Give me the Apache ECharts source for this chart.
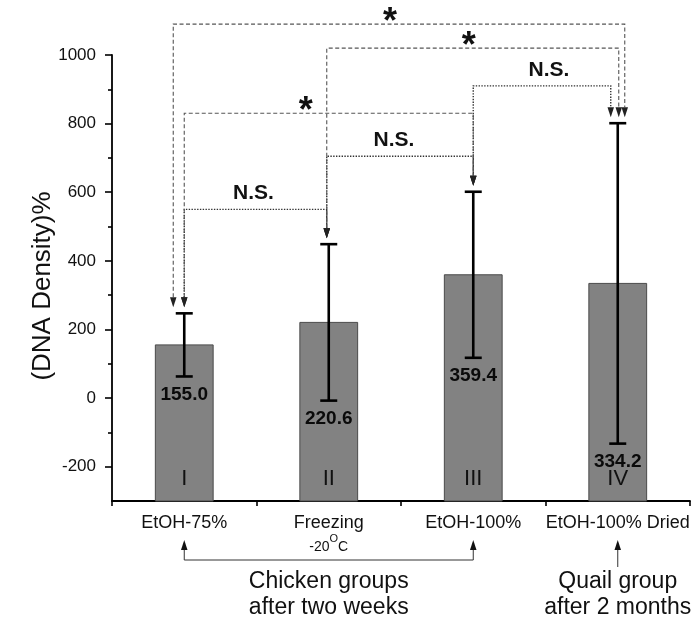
<!DOCTYPE html>
<html><head><meta charset="utf-8">
<script src="https://cdn.jsdelivr.net/npm/echarts@6/dist/echarts.min.js"></script>
<style>html,body{margin:0;padding:0;background:#fff}#c{width:694px;height:619px}</style>
</head><body><div id="c"></div>
<script>
// ---- data ----
const categories = ['EtOH-75%', 'Freezing\n-20°C', 'EtOH-100%', 'EtOH-100% Dried'];
const romans = ['I', 'II', 'III', 'IV'];
const means = [155.0, 220.6, 359.4, 334.2];
const errors = [92, 228, 242, 467];
const yTicks = [-200, 0, 200, 400, 600, 800, 1000];
const yMinorTicks = [-100, 100, 300, 500, 700, 900];
const yTitle = '(DNA Density)%';
const bracketFrom = [0, 1, 2, 0, 1, 0];
const bracketTo = [1, 2, 3, 2, 3, 3];
const bracketHeight = [550, 705, 910, 830, 1020, 1090];
const bracketLabel = ['N.S.', 'N.S.', 'N.S.', '*', '*', '*'];
const groupFrom = [0, 3];
const groupTo = [2, 3];
const groupLabel = ['Chicken groups\nafter two weeks', 'Quail group\nafter 2 months'];
const Y_MIN = -300, Y_MAX = 1000;

// ---- style ----
const FONT = '"Liberation Sans", Arial, Helvetica, sans-serif';
const bracketShift = [[0, -2], [-2, 0], [0, -7], [0, 0], [-2, 1], [-11, 7]];
const labelShift = [-2, -6, 7, -23, -4, -9];
const ARROW_GAP = 6, ARROW_H = 10, ARROW_W = 6.5;

function arrowDown(x, y, color) {
  return { type: 'polygon', shape: { points: [[x - ARROW_W / 2, y - ARROW_H], [x + ARROW_W / 2, y - ARROW_H], [x, y]] }, style: { fill: color } };
}
function arrowUp(x, y, color) {
  return { type: 'polygon', shape: { points: [[x - ARROW_W / 2, y + ARROW_H], [x + ARROW_W / 2, y + ARROW_H], [x, y]] }, style: { fill: color } };
}

function renderBar(params, api) {
  const i = api.value(0), m = api.value(1), e = api.value(2);
  const x = api.coord([i, m])[0];
  const top = api.coord([i, m])[1];
  const base = api.coord([i, Y_MIN])[1];
  const w = api.size([1, 0])[0] * 0.4;
  const hi = api.coord([i, m + e])[1];
  const lo = api.coord([i, m - e])[1];
  const capW = 17;
  return {
    type: 'group',
    children: [
      { type: 'rect', shape: { x: x - w / 2, y: top, width: w, height: base - top }, style: { fill: '#828282', stroke: '#4a4a4a', lineWidth: 1 } },
      { type: 'line', shape: { x1: x, y1: hi, x2: x, y2: lo }, style: { stroke: '#000', lineWidth: 2.6 } },
      { type: 'line', shape: { x1: x - capW / 2, y1: hi, x2: x + capW / 2, y2: hi }, style: { stroke: '#000', lineWidth: 2.6 } },
      { type: 'line', shape: { x1: x - capW / 2, y1: lo, x2: x + capW / 2, y2: lo }, style: { stroke: '#000', lineWidth: 2.6 } },
      { type: 'text', style: { text: m.toFixed(1), x: x, y: lo + 18, align: 'center', verticalAlign: 'middle', fontFamily: FONT, fontWeight: 'bold', fontSize: 19, fill: '#0a0a0a' } },
      { type: 'text', style: { text: romans[i], x: x, y: base - 22, align: 'center', verticalAlign: 'middle', fontFamily: FONT, fontSize: 22, fill: '#111' } }
    ]
  };
}

function renderBracket(params, api) {
  const k = api.value(2);
  const a = bracketFrom[k], b = bracketTo[k];
  const h = api.coord([a, bracketHeight[k]])[1];
  const xa = api.coord([a, 0])[0] + bracketShift[k][0];
  const xb = api.coord([b, 0])[0] + bracketShift[k][1];
  const ya = api.coord([a, means[a] + errors[a]])[1] - ARROW_GAP;
  const yb = api.coord([b, means[b] + errors[b]])[1] - ARROW_GAP;
  const ns = bracketLabel[k] !== '*';
  const color = ns ? '#333' : '#555';
  const dash = ns ? [1.4, 1.4] : [4, 2.5];
  const lw = ns ? 1.4 : 1.1;
  const mid = (xa + xb) / 2 + labelShift[k];
  const label = ns
    ? { type: 'text', style: { text: bracketLabel[k], x: mid, y: h - 16, align: 'center', verticalAlign: 'middle', fontFamily: FONT, fontWeight: 'bold', fontSize: 21, fill: '#111' } }
    : { type: 'text', style: { text: '*', x: mid, y: h - 1, align: 'center', verticalAlign: 'middle', fontFamily: FONT, fontWeight: 'bold', fontSize: 36, fill: '#111' } };
  return {
    type: 'group',
    children: [
      { type: 'polyline', shape: { points: [[xa, ya - ARROW_H], [xa, h], [xb, h], [xb, yb - ARROW_H]] }, style: { stroke: color, lineWidth: lw, lineDash: dash, fill: null } },
      arrowDown(xa, ya, '#222'),
      arrowDown(xb, yb, '#222'),
      label
    ]
  };
}

function renderGroup(params, api) {
  const k = api.value(2);
  const a = groupFrom[k], b = groupTo[k];
  const base = api.coord([a, Y_MIN])[1];
  const xa = api.coord([a, 0])[0];
  const xb = api.coord([b, 0])[0];
  const tip = base + 39;
  const children = [];
  const color = '#333';
  if (a !== b) {
    const yl = base + 59;
    children.push({ type: 'polyline', shape: { points: [[xa, tip + ARROW_H], [xa, yl], [xb, yl], [xb, tip + ARROW_H]] }, style: { stroke: color, lineWidth: 1, fill: null } });
    children.push(arrowUp(xa, tip, '#111'), arrowUp(xb, tip, '#111'));
  } else {
    children.push({ type: 'line', shape: { x1: xa, y1: tip + ARROW_H, x2: xa, y2: base + 66 }, style: { stroke: color, lineWidth: 1 } });
    children.push(arrowUp(xa, tip, '#111'));
  }
  children.push({ type: 'text', style: { text: groupLabel[k], x: (xa + xb) / 2, y: base + 94, align: 'center', verticalAlign: 'middle', fontFamily: FONT, fontSize: 23, lineHeight: 26, fill: '#111' } });
  return { type: 'group', children };
}

const chart = echarts.init(document.getElementById('c'), null, { renderer: 'canvas' });
chart.setOption({
  animation: false,
  backgroundColor: '#fff',
  grid: { left: 112, right: 4, top: 55, bottom: 118, containLabel: false },
  graphic: [{
    type: 'text', x: 43, y: 286, rotation: Math.PI / 2,
    style: { text: yTitle, align: 'center', verticalAlign: 'middle', fontFamily: FONT, fontSize: 26, fill: '#111' }
  }],
  xAxis: [
    {
      type: 'category', data: categories, boundaryGap: true,
      axisLine: { onZero: false, lineStyle: { color: '#000', width: 1.8 } },
      axisTick: { alignWithLabel: true, length: 9, lineStyle: { color: '#000', width: 1.6 } },
      axisLabel: {
        margin: 12, interval: 0, color: '#111', fontFamily: FONT, fontSize: 18,
        formatter: function (v) {
          const lines = v.split('\n');
          let s = '{a|' + lines[0] + '}';
          if (lines[1]) s += '\n{b|' + lines[1].replace('°', '}{c|O}{b|') + '}';
          return s;
        },
        rich: {
          a: { fontFamily: FONT, fontSize: 18, lineHeight: 20, color: '#111' },
          b: { fontFamily: FONT, fontSize: 14, lineHeight: 28, color: '#111' },
          c: { fontFamily: FONT, fontSize: 11, lineHeight: 28, verticalAlign: 'top', color: '#111' }
        }
      },
      splitLine: { show: false }
    },
    {
      type: 'category', data: categories, boundaryGap: true, position: 'bottom',
      axisLine: { show: false, onZero: false },
      axisTick: { show: true, alignWithLabel: false, length: 5, lineStyle: { color: '#000', width: 1.6 } },
      axisLabel: { show: false }, splitLine: { show: false }
    }
  ],
  yAxis: [
    {
      type: 'value', min: Y_MIN, max: Y_MAX, position: 'left',
      axisLine: { show: true, onZero: false, lineStyle: { color: '#000', width: 1.8 } },
      axisTick: { show: true, length: 7, customValues: yTicks, lineStyle: { color: '#000', width: 1.6 } },
      axisLabel: { customValues: yTicks, margin: 16, color: '#111', fontFamily: FONT, fontSize: 17, formatter: function (v) { return String(v); } },
      splitLine: { show: false }
    },
    {
      type: 'value', min: Y_MIN, max: Y_MAX, position: 'left',
      axisLine: { show: false, onZero: false },
      axisTick: { show: true, length: 4, customValues: yMinorTicks, lineStyle: { color: '#000', width: 1.6 } },
      axisLabel: { show: false }, splitLine: { show: false }
    }
  ],
  series: [
    {
      type: 'custom', name: 'bars', clip: false, renderItem: renderBar,
      encode: { x: 0, y: 1 },
      data: categories.map((c, i) => [i, means[i], errors[i]]), z: 2
    },
    {
      type: 'custom', name: 'brackets', clip: false, renderItem: renderBracket,
      encode: { x: 0, y: 1 },
      data: bracketFrom.map((a, k) => [a, bracketHeight[k], k]), z: 3
    },
    {
      type: 'custom', name: 'groups', clip: false, renderItem: renderGroup,
      encode: { x: 0, y: 1 },
      data: groupFrom.map((a, k) => [a, Y_MIN, k]), z: 3
    }
  ]
});
</script></body></html>
